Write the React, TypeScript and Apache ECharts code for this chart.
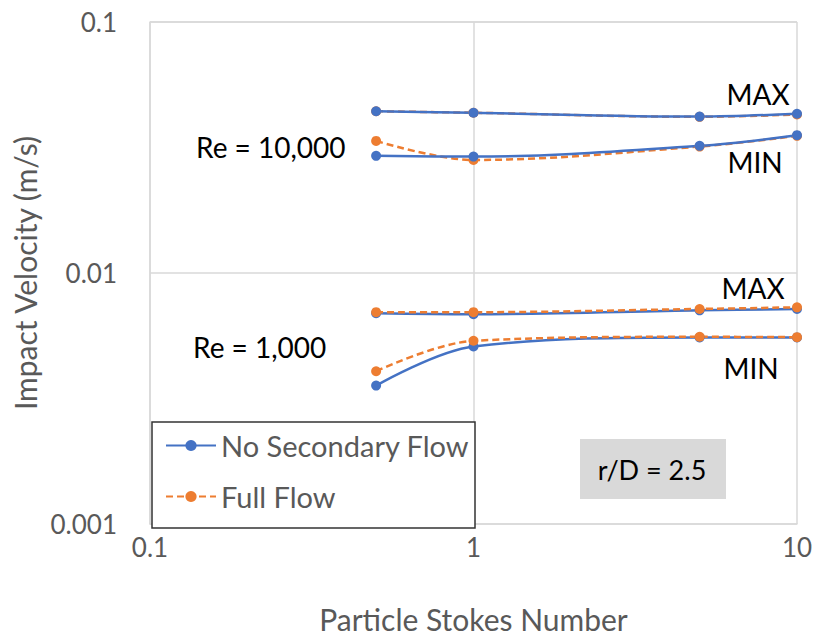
import React, { useEffect, useRef } from "react";
import * as echarts from "echarts";

const stokes = [0.5, 1, 5, 10];
const noSecRe10kMax = [0.0441, 0.0435, 0.042, 0.0431];
const noSecRe10kMin = [0.0293, 0.0291, 0.0321, 0.0354];
const fullRe10kMax = [0.0441, 0.0435, 0.0419, 0.0428];
const fullRe10kMin = [0.0336, 0.0282, 0.0319, 0.0352];
const noSecRe1kMax = [0.00691, 0.00685, 0.0071, 0.00719];
const noSecRe1kMin = [0.00356, 0.0051, 0.00554, 0.00554];
const fullRe1kMax = [0.00698, 0.00698, 0.00719, 0.0073];
const fullRe1kMin = [0.00406, 0.00537, 0.00557, 0.00555];

const legendNames = ["No Secondary Flow", "Full Flow"];
const xTicks = [0.1, 1, 10];
const yTicks = [0.001, 0.01, 0.1];

const BLUE = "#4472C4";
const ORANGE = "#ED7D31";
const FONT = "Lato";

function pairs(ys: number[]) {
  return stokes.map((x, i) => [x, ys[i]]);
}

function mk(name: string, ys: number[], color: string, dashed: boolean) {
  return {
    type: "line",
    name,
    data: pairs(ys),
    smooth: 0.35,
    symbol: "circle",
    symbolSize: 10,
    itemStyle: { color },
    lineStyle: { color, width: 2.5, type: dashed ? [7, 4] : "solid" },
  };
}

export default function App() {
  const ref = useRef<HTMLDivElement>(null);
  useEffect(() => {
    document.body.style.margin = "0";
    if (!ref.current) return;
    const chart = echarts.init(ref.current, undefined, { renderer: "svg" });
    const txt = (text: string, x: number, y: number, align = "left") => ({
      type: "text",
      x,
      y,
      style: {
        text,
        fill: "#000",
        font: `28px ${FONT}`,
        textAlign: align,
        textVerticalAlign: "middle",
      },
    });
    chart.setOption({
      animation: false,
      backgroundColor: "#fff",
      grid: { left: 150, top: 22, width: 647, height: 505 },
      xAxis: {
        type: "log",
        logBase: 10,
        min: 0.1,
        max: 10,
        name: "Particle Stokes Number",
        nameLocation: "middle",
        nameGap: 80,
        nameTextStyle: { fontFamily: FONT, fontSize: 30, color: "#595959" },
        axisLine: { show: true, lineStyle: { color: "#d9d9d9", width: 1.5 } },
        axisTick: { show: false },
        splitLine: { show: true, lineStyle: { color: "#d9d9d9", width: 1.5 } },
        axisLabel: {
          fontFamily: FONT,
          fontSize: 26,
          color: "#595959",
          margin: 10,
          formatter: (v: number) => {
            const t = xTicks.find((k) => Math.abs(k - v) / k < 1e-6);
            return t !== undefined ? String(t) : "";
          },
        },
      },
      yAxis: {
        type: "log",
        logBase: 10,
        min: 0.001,
        max: 0.1,
        name: "Impact Velocity (m/s)",
        nameLocation: "middle",
        nameGap: 108,
        nameTextStyle: { fontFamily: FONT, fontSize: 30, color: "#595959" },
        axisLine: { show: true, lineStyle: { color: "#d9d9d9", width: 1.5 } },
        axisTick: { show: false },
        splitLine: { show: true, lineStyle: { color: "#d9d9d9", width: 1.5 } },
        axisLabel: {
          fontFamily: FONT,
          fontSize: 26,
          color: "#595959",
          margin: 33,
          formatter: (v: number) => {
            const t = yTicks.find((k) => Math.abs(k - v) / k < 1e-6);
            return t !== undefined ? String(t) : "";
          },
        },
      },
      legend: {
        data: legendNames,
        orient: "vertical",
        left: 160,
        top: 426,
        itemWidth: 50,
        itemHeight: 14,
        itemGap: 22,
        textStyle: { fontFamily: FONT, fontSize: 29, color: "#595959" },
      },
      graphic: [
        {
          type: "rect",
          shape: { x: 152, y: 422, width: 323, height: 106 },
          style: { fill: "#fff", stroke: "#333", lineWidth: 1.5 },
          z: 1,
        },
        {
          type: "rect",
          shape: { x: 580, y: 439, width: 146, height: 60 },
          style: { fill: "#d9d9d9" },
        },
        {
          type: "text",
          x: 652,
          y: 469,
          style: {
            text: "r/D = 2.5",
            fill: "#000",
            font: `27px ${FONT}`,
            textAlign: "center",
            textVerticalAlign: "middle",
          },
        },
        txt("MAX", 758, 94, "center"),
        txt("MIN", 755, 162, "center"),
        txt("Re = 10,000", 196, 147),
        txt("MAX", 753, 288, "center"),
        txt("MIN", 751, 368, "center"),
        txt("Re = 1,000", 193, 347),
      ],
      series: [
        mk("Full Flow", fullRe10kMax, ORANGE, true),
        mk("Full Flow", fullRe10kMin, ORANGE, true),
        mk("No Secondary Flow", noSecRe10kMax, BLUE, false),
        mk("No Secondary Flow", noSecRe10kMin, BLUE, false),
        mk("No Secondary Flow", noSecRe1kMax, BLUE, false),
        mk("No Secondary Flow", noSecRe1kMin, BLUE, false),
        mk("Full Flow", fullRe1kMax, ORANGE, true),
        mk("Full Flow", fullRe1kMin, ORANGE, true),
      ],
    });
    return () => chart.dispose();
  }, []);
  return <div ref={ref} style={{ width: 822, height: 639 }} />;
}
